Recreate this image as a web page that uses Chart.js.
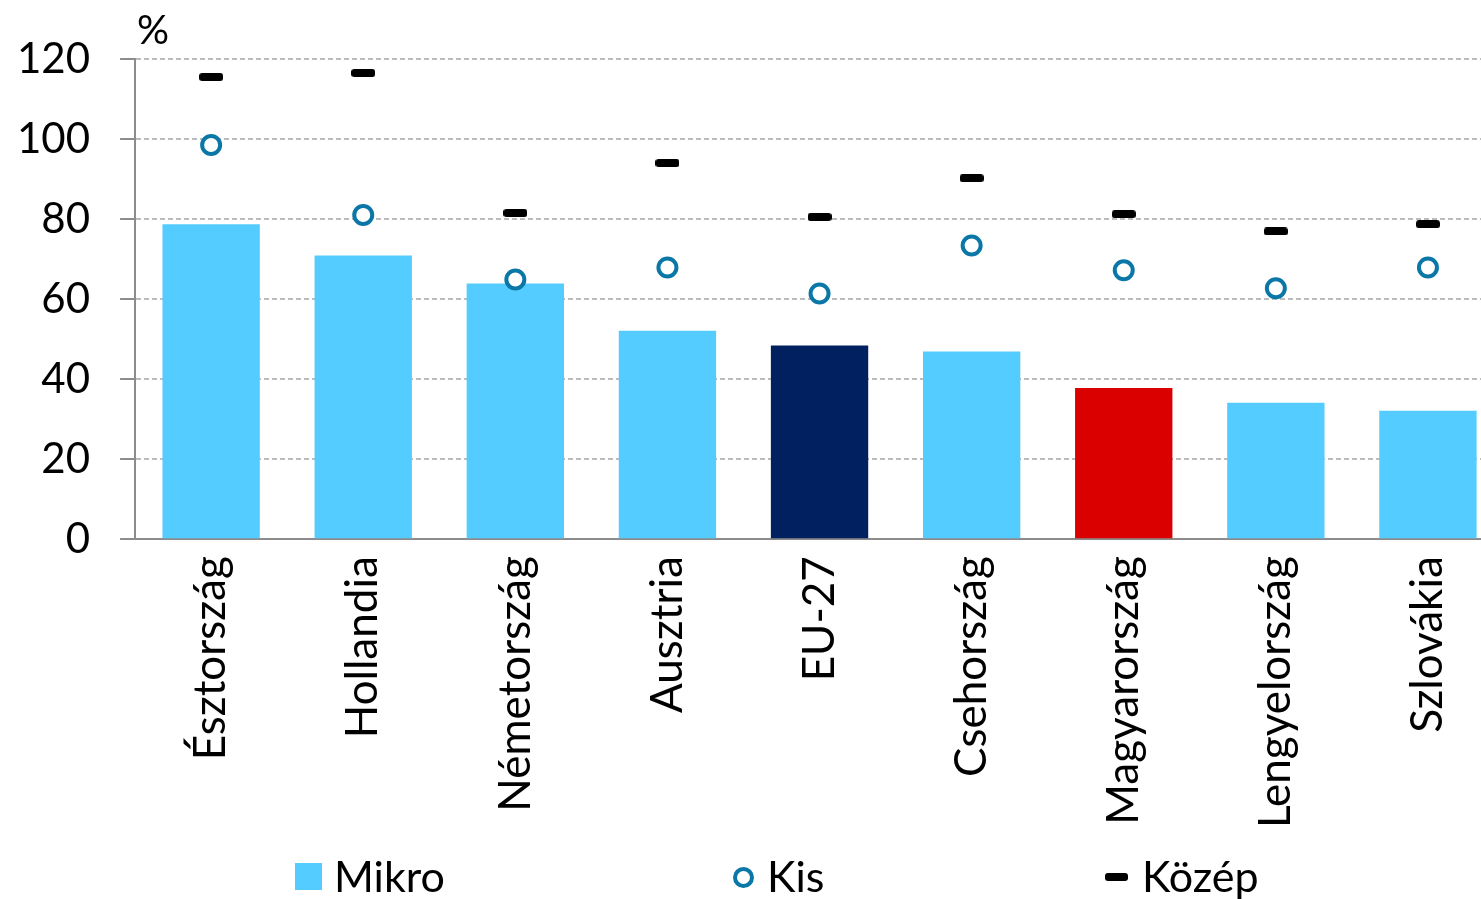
<!DOCTYPE html>
<html>
<head>
<meta charset="utf-8">
<script src="https://cdn.jsdelivr.net/npm/chart.js@4/dist/chart.umd.min.js"></script>
<style>
  html, body { margin: 0; padding: 0; background: #fff; overflow: hidden; }
  #wrap { position: relative; width: 1481px; height: 899px; overflow: hidden; }
  #box { position: absolute; left: -33px; top: 0; width: 1550px; height: 899px; }
  #legend { position: absolute; top: 852px; left: 0; width: 1481px; height: 48px;
            font-family: Lato, "Open Sans", sans-serif; font-size: 43px; color: #000; }
  #legend span { position: absolute; top: 0; line-height: 48px; }
  .mk { position: absolute; }
</style>
</head>
<body>
<div id="wrap">
  <div id="box"><canvas id="chart"></canvas></div>
  <div id="legend">
    <div class="mk" style="left:295px;top:11px;width:27px;height:27px;background:#55ccff"></div>
    <span style="left:334px">Mikro</span>
    <div class="mk" style="left:733px;top:15px;width:13px;height:13px;border:4px solid #0a77a6;border-radius:50%;background:#fff"></div>
    <span style="left:767px">Kis</span>
    <div class="mk" style="left:1105px;top:21px;width:23px;height:8px;background:#000;border-radius:3px"></div>
    <span style="left:1142px">Közép</span>
  </div>
</div>
<script>
// adatok
var orszagok = ['Észtország','Hollandia','Németország','Ausztria','EU-27','Csehország','Magyarország','Lengyelország','Szlovákia'];
var mikro = [78.7, 70.9, 63.9, 52.1, 48.4, 46.9, 37.8, 34.1, 32.1];
var kis = [98.5, 81.0, 64.9, 67.9, 61.4, 73.4, 67.2, 62.7, 67.9];
var kozep = [115.5, 116.5, 81.5, 94.0, 80.5, 90.2, 81.2, 76.9, 78.7];
var yTicks = [0, 20, 40, 60, 80, 100, 120];

var barColors = orszagok.map(function (o) {
  if (o == 'EU-27') return '#002060';
  if (o == 'Magyarország') return '#db0000';
  return '#55ccff';
});

// kerekített vonal marker a "Közép" sorozathoz
var dash = document.createElement('canvas');
dash.width = 24; dash.height = 8;
(function () {
  var c = dash.getContext('2d');
  c.fillStyle = '#000';
  c.beginPath();
  c.roundRect(0, 0, 24, 8, 3);
  c.fill();
})();

var szazalek = {
  id: 'szazalek',
  afterDraw: function (chart) {
    var ctx = chart.ctx, a = chart.chartArea;
    ctx.save();
    ctx.font = '40px Lato, "Open Sans", sans-serif';
    ctx.fillStyle = '#000';
    ctx.textAlign = 'left';
    ctx.textBaseline = 'alphabetic';
    ctx.fillText('%', a.left + 2, a.top - 15);
    ctx.restore();
  }
};

Chart.defaults.font.family = 'Lato, "Open Sans", sans-serif';
Chart.defaults.color = '#000';

var ctx = document.getElementById('chart').getContext('2d');
new Chart(ctx, {
  data: {
    labels: orszagok,
    datasets: [
      { type: 'scatter', label: 'Közép', data: kozep, pointStyle: dash, pointRadius: 12, order: 1 },
      { type: 'scatter', label: 'Kis', data: kis, pointStyle: 'circle', pointRadius: 9,
        borderWidth: 4, borderColor: '#0a77a6', backgroundColor: '#fff', order: 2 },
      { type: 'bar', label: 'Mikro', data: mikro, backgroundColor: barColors,
        barPercentage: 0.64, categoryPercentage: 1, order: 3 }
    ]
  },
  options: {
    responsive: true,
    maintainAspectRatio: false,
    animation: false,
    layout: { padding: { left: 20, right: 0, top: 59, bottom: 54 } },
    plugins: { legend: { display: false }, tooltip: { enabled: false } },
    scales: {
      x: {
        type: 'category',
        grid: { display: false, drawTicks: false },
        border: { display: true, color: '#8c8c8c', width: 2 },
        ticks: { font: { size: 44 }, maxRotation: 90, minRotation: 90, padding: 17, autoSkip: false }
      },
      y: {
        min: 0, max: 120,
        afterBuildTicks: function (s) { s.ticks = yTicks.map(function (v) { return { value: v }; }); },
        grid: { color: '#bdbdbd', lineWidth: 2, tickLength: 15,
                tickColor: '#8c8c8c', tickWidth: 2, tickBorderDash: [] },
        border: { display: true, color: '#8c8c8c', width: 2, dash: [5, 3] },
        ticks: { font: { size: 42 }, padding: 30 }
      }
    }
  },
  plugins: [szazalek]
});
</script>
</body>
</html>
